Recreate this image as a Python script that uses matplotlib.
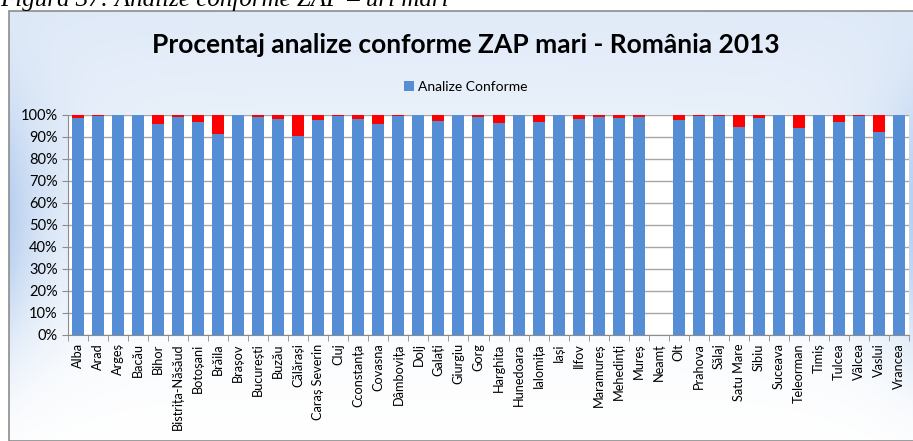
import matplotlib
matplotlib.use("Agg")
import matplotlib.pyplot as plt
import numpy as np
from matplotlib.patches import Rectangle
from matplotlib.ticker import FuncFormatter

judete = ["Alba", "Arad", "Argeș", "Bacău", "Bihor", "Bistrița-Năsăud", "Botoșani",
          "Brăila", "Brașov", "București", "Buzău", "Călărași", "Caraș Severin", "Cluj",
          "Cconstanța", "Covasna", "Dâmbovița", "Dolj", "Galați", "Giurgiu", "Gorg",
          "Harghita", "Hunedoara", "Ialomița", "Iași", "Ilfov", "Maramureș", "Mehedinți",
          "Mureș", "Neamț", "Olt", "Prahova", "Sălaj", "Satu Mare", "Sibiu", "Suceava",
          "Teleorman", "Timiș", "Tulcea", "Vâlcea", "Vaslui", "Vrancea"]

# procent analize conforme (Neamț fara date)
conforme = [98.7, 99.4, 99.8, 99.8, 96.1, 99.1, 97.0,
            91.5, 100.0, 99.1, 98.3, 90.3, 97.7, 99.4,
            98.3, 96.1, 99.4, 99.8, 97.3, 100.0, 99.1,
            96.4, 100.0, 97.0, 99.8, 98.0, 99.1, 98.6,
            99.1, np.nan, 97.6, 99.4, 99.4, 94.5, 98.6, 99.8,
            94.2, 99.8, 97.0, 99.4, 92.4, 99.8]

conf = np.nan_to_num(np.array(conforme))
neconf = np.where(np.isnan(conforme), 0, 100 - np.nan_to_num(conforme))
x = np.arange(len(judete))

plt.rcParams["font.family"] = ["Lato", "DejaVu Sans"]

W, H = 913, 441
fig = plt.figure(figsize=(W / 100, H / 100), dpi=100)

# chenar cu fundal in degrade
bg = fig.add_axes([9 / W, 0, 1 - 9 / W, 1 - 11 / H])
ny, nx = 200, 300
yy, xx = np.mgrid[0:1:ny * 1j, 0:1:nx * 1j]
top = 0.27 * (1 - yy) ** 1.3
edge = np.exp(-np.minimum(xx, 1 - xx) / 0.05) * np.exp(-((yy - 0.5) / 0.3) ** 2)
w = np.clip(top + 0.5 * edge, 0, 1)
blue = np.array([0.55, 0.70, 0.90])
img = 1 - w[..., None] * (1 - blue)
bg.imshow(img, aspect="auto", extent=[0, 1, 0, 1], origin="upper")
bg.set_xlim(0, 1)
bg.set_ylim(0, 1)
bg.axis("off")
bg.add_patch(Rectangle((0, 0), 1.2, 1, transform=bg.transAxes, fill=False,
                       edgecolor="#8c8c8c", lw=1.2, clip_on=False))

fig.text(0.0, 1 - 6 / H, "Figura 37: Analize conforme ZAP – uri mari",
         family="Liberation Serif", style="italic", fontsize=18, va="baseline", ha="left")

ax = fig.add_axes([68 / W, 1 - 335 / H, (909 - 68) / W, (335 - 115) / H])
ax.set_facecolor("white")
ax.bar(x, conf, width=0.6, color="#558ed5", label="Analize Conforme", zorder=3)
ax.bar(x, neconf, width=0.6, bottom=conf, color="#ff0000", zorder=3)

ax.set_xlim(-0.5, len(judete) - 0.5)
ax.set_ylim(0, 100)
ax.set_yticks(np.arange(0, 101, 10))
ax.yaxis.set_major_formatter(FuncFormatter(lambda v, p: f"{v:.0f}%"))
ax.grid(axis="y", color="#a6a6a6", lw=1, zorder=0)
ax.set_xticks(x)
ax.set_xticklabels(judete, rotation=90, fontsize=9.2)
ax.set_xticks(np.arange(-0.5, len(judete), 1), minor=True)
ax.tick_params(axis="x", which="major", length=0, pad=6)
ax.tick_params(axis="x", which="minor", length=4, color="#8c8c8c")
ax.tick_params(axis="y", length=4, color="#8c8c8c", labelsize=10.5)
for s in ["top", "right"]:
    ax.spines[s].set_visible(False)
ax.spines["left"].set_color("#8c8c8c")
ax.spines["bottom"].set_color("#8c8c8c")

fig.text(466 / W, 1 - 45 / H, "Procentaj analize conforme ZAP mari - România 2013",
         ha="center", va="center", fontsize=19, fontweight="bold")
fig.legend(loc="center", bbox_to_anchor=(466 / W, 1 - 87 / H), frameon=False,
           handlelength=0.7, handleheight=0.7, handletextpad=0.3,
           prop={"size": 10})

fig.savefig("out.png", dpi=100)
